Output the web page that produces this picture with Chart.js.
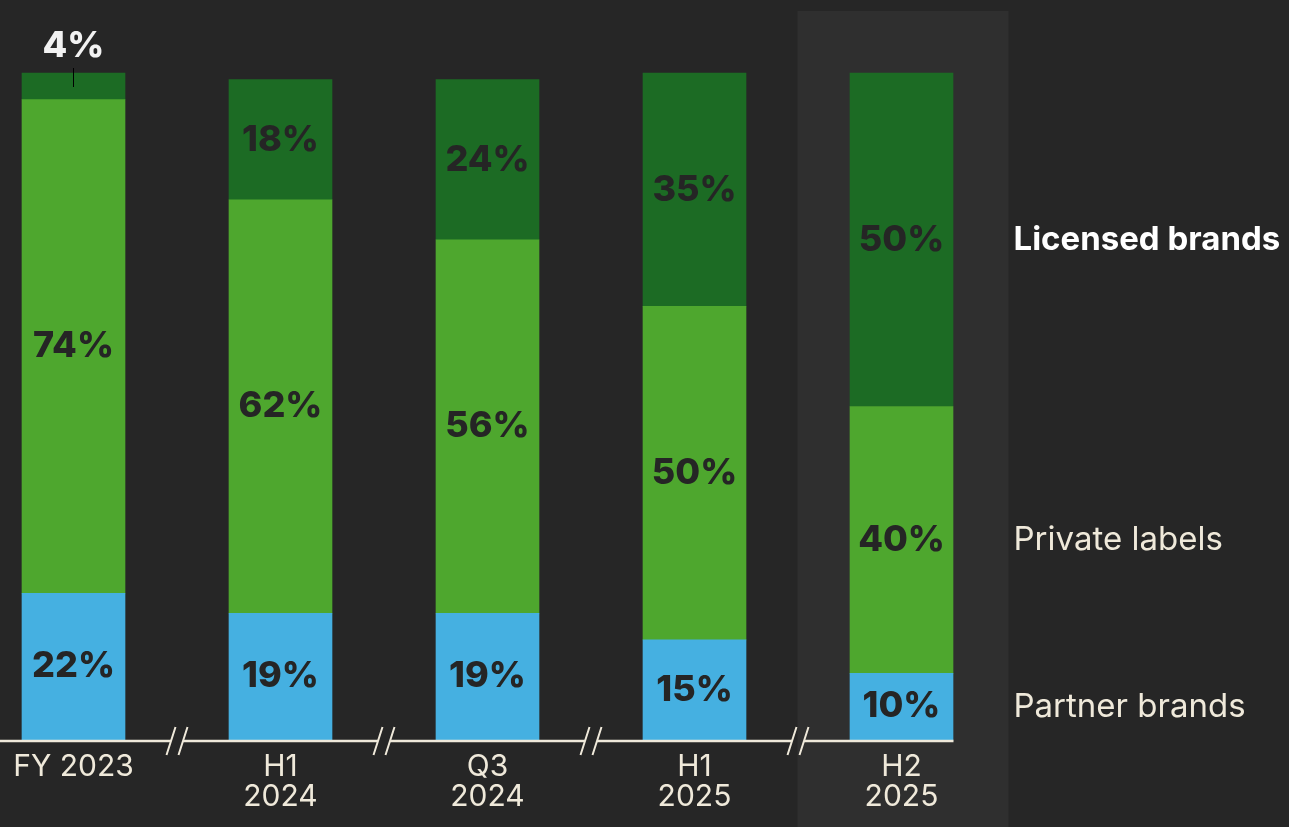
<!DOCTYPE html>
<html lang="en">
<head>
    <meta charset="UTF-8">
    <title>Brand mix</title>
    <style>
        html, body { margin: 0; padding: 0; background: #262626; }
        #wrap { width: 1289px; height: 827px; }
    </style>
</head>
<body>
    <div id="wrap">
        <canvas id="mixChart" width="1289" height="827"></canvas>
    </div>

    <script src="https://cdn.jsdelivr.net/npm/chart.js"></script>

    <script>
        // Share of sales by brand type, per period
        const periods = [['FY 2023'], ['H1', '2024'], ['Q3', '2024'], ['H1', '2025'], ['H2', '2025']];
        const partnerBrands = [22, 19, 19, 15, 10];
        const privateLabels = [74, 62, 56, 50, 40];
        const licensedBrands = [4, 18, 24, 35, 50];
        const seriesNames = ['Partner brands', 'Private labels', 'Licensed brands'];

        const FONT = 'Inter, "Noto Sans", sans-serif';
        const CREAM = '#EFE9DA';

        // grey panel behind the latest period
        const backdrop = {
            id: 'backdrop',
            beforeDraw(chart) {
                const { ctx, scales } = chart;
                const x = scales.x.getPixelForValue(4);
                ctx.save();
                ctx.fillStyle = '#2F2F2F';
                ctx.fillRect(x - 104, 11, 211, chart.height - 11);
                ctx.restore();
            }
        };

        // the baseline, broken by "//" marks between periods
        const brokenAxis = {
            id: 'brokenAxis',
            afterDatasetsDraw(chart) {
                const { ctx, chartArea, scales } = chart;
                const y = chartArea.bottom + 1;
                const step = scales.x.getPixelForValue(1) - scales.x.getPixelForValue(0);
                const lastRight = scales.x.getPixelForValue(4) + 52;
                ctx.save();
                ctx.strokeStyle = CREAM;
                ctx.lineWidth = 2.5;
                let start = 0;
                ctx.beginPath();
                for (let i = 0; i < 4; i++) {
                    const mid = scales.x.getPixelForValue(i) + step / 2;
                    ctx.moveTo(start, y);
                    ctx.lineTo(mid - 6, y);
                    start = mid + 6;
                }
                ctx.moveTo(start, y);
                ctx.lineTo(lastRight, y);
                ctx.stroke();
                ctx.lineWidth = 2;
                ctx.beginPath();
                for (let i = 0; i < 4; i++) {
                    const mid = scales.x.getPixelForValue(i) + step / 2;
                    [-6, 6].forEach(dx => {
                        ctx.moveTo(mid + dx - 4.5, y + 14);
                        ctx.lineTo(mid + dx + 4.5, y - 14);
                    });
                }
                ctx.stroke();
                ctx.restore();
            }
        };

        // percentages inside the bars, small one above, series names on the right
        const valueLabels = {
            id: 'valueLabels',
            afterDatasetsDraw(chart) {
                const { ctx } = chart;
                ctx.save();
                ctx.textAlign = 'center';
                ctx.textBaseline = 'middle';
                ctx.font = '800 36px ' + FONT;
                chart.data.datasets.forEach((ds, di) => {
                    const meta = chart.getDatasetMeta(di);
                    meta.data.forEach((bar, i) => {
                        const v = ds.data[i];
                        const txt = v + '%';
                        if (v < 8) {
                            ctx.strokeStyle = '#000';
                            ctx.lineWidth = 1;
                            ctx.beginPath();
                            ctx.moveTo(bar.x, bar.y - 5);
                            ctx.lineTo(bar.x, bar.y + 14);
                            ctx.stroke();
                            ctx.fillStyle = '#F2F2F2';
                            ctx.fillText(txt, bar.x, bar.y - 27);
                        } else {
                            ctx.fillStyle = '#252525';
                            ctx.fillText(txt, bar.x, (bar.y + bar.base) / 2);
                        }
                    });
                });
                // series names beside the last bar
                const lastIdx = chart.data.labels.length - 1;
                ctx.textAlign = 'left';
                chart.data.datasets.forEach((ds, di) => {
                    const bar = chart.getDatasetMeta(di).data[lastIdx];
                    const bold = di === 2;
                    ctx.fillStyle = bold ? '#FFFFFF' : CREAM;
                    ctx.font = (bold ? '700 ' : '400 ') + '33px ' + FONT;
                    ctx.fillText(seriesNames[di], bar.x + 112, (bar.y + bar.base) / 2);
                });
                ctx.restore();
            }
        };

        new Chart(document.getElementById('mixChart'), {
            type: 'bar',
            data: {
                labels: periods,
                datasets: [
                    { label: seriesNames[0], data: partnerBrands, backgroundColor: '#45B0E1' },
                    { label: seriesNames[1], data: privateLabels, backgroundColor: '#4EA72E' },
                    { label: seriesNames[2], data: licensedBrands, backgroundColor: '#1C6B24' }
                ].map(d => Object.assign(d, { barThickness: 103, borderWidth: 0, clip: false }))
            },
            options: {
                responsive: false,
                devicePixelRatio: 1,
                animation: false,
                layout: { padding: { left: 73.5, right: 387.5, top: 73, bottom: 11 } },
                plugins: { legend: { display: false }, tooltip: { enabled: false } },
                scales: {
                    x: {
                        stacked: true,
                        offset: false,
                        grid: { display: false },
                        border: { display: false },
                        ticks: {
                            color: CREAM,
                            font: { family: FONT, size: 30, lineHeight: 1.0 },
                            padding: 4,
                            maxRotation: 0,
                            autoSkip: false
                        }
                    },
                    y: {
                        stacked: true,
                        display: false,
                        min: 0,
                        max: 100
                    }
                }
            },
            plugins: [backdrop, brokenAxis, valueLabels]
        });
    </script>
</body>
</html>
